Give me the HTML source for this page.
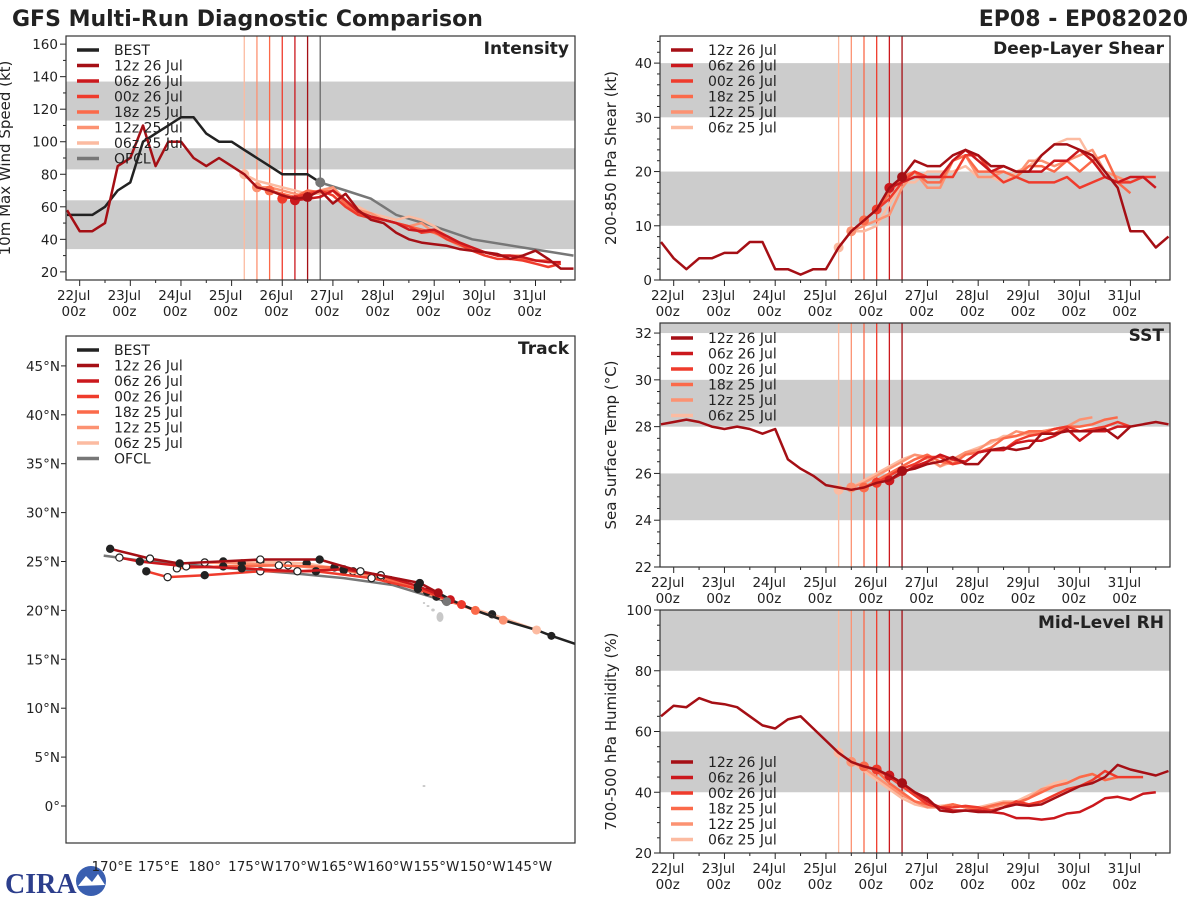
<!DOCTYPE html>
<html><head><meta charset="utf-8">
<style>
html,body{margin:0;padding:0;background:#fff;}
svg{display:block;font-family:"DejaVu Sans","Liberation Sans",sans-serif;}
</style></head>
<body>
<svg id="fig" width="1200" height="900" viewBox="0 0 1200 900" xmlns="http://www.w3.org/2000/svg">
<text x="12" y="26" font-size="22" font-weight="bold" fill="#222">GFS Multi-Run Diagnostic Comparison</text>
<text x="1188" y="26" font-size="22" font-weight="bold" fill="#222" text-anchor="end">EP08 - EP082020</text>
<g>
<text x="5" y="893" font-size="28" font-weight="bold" fill="#2c3e8c" font-family="Liberation Serif,serif">CIRA</text>
<circle cx="91" cy="881" r="15" fill="#3a5fb0"/>
<path d="M78 886 L86 876 L92 882 L98 874 L105 885 Z" fill="#fff"/>
</g>
</svg>
<script>
const NS="http://www.w3.org/2000/svg";
const svg=document.getElementById('fig');
function el(tag,attrs,parent){const e=document.createElementNS(NS,tag);for(const k in attrs)e.setAttribute(k,attrs[k]);(parent||svg).appendChild(e);return e;}

// ---------- DATA ----------
const runNames=["12z 26 Jul","06z 26 Jul","00z 26 Jul","18z 25 Jul","12z 25 Jul","06z 25 Jul"];
const runInits=[26.5,26.25,26.0,25.75,25.5,25.25];
const runColors=["#a50f15","#cb181d","#ef3b2c","#fb6a4a","#fc9272","#fcbba1"];
const histStart=21.75;
const ofclTime=26.75;

// Intensity (kt)
const bestInt=[55,55,55,60,70,75,100,105,110,115,115,105,100,100,95,90,85,80,80,80,75];
const ofclIntTimes=[26.75,27.25,27.75,28.25,29.0,29.75,30.75,31.75];
const ofclInt=[75,70,65,55,48,40,35,30];
const int12z26=[58,45,45,50,85,90,110,85,100,100,90,85,90,85,80,72,70,67,65,66,70,62,68,58,52,50,44,40,38,37,36,34,33,32,31,28,30,33,28,22,22];
const int06z26=[64,65,66,70,64,57,54,52,50,46,45,46,42,38,35,32,30,30,29,27,26,26];
const int00z26=[65,66,68,70,67,60,55,53,52,50,48,44,45,40,37,33,30,28,28,27,25,23,25];
const int18z25=[70,68,66,70,69,70,62,56,54,52,50,48,46,44,42,38,35,32,30,30,28,27,27];
const int12z25=[72,72,70,68,66,70,72,64,58,56,52,50,48,50,44,40,36,34,32,30,30,30];
const int06z25=[80,76,74,72,70,68,68,70,62,60,56,54,52,54,52,48,42,38,34,32,30,30];

// Shear (kt)
const shr12z26=[7,4,2,4,4,5,5,7,7,2,2,1,2,2,6,9,11,13,17,19,22,21,21,23,24,23,21,21,20,20,23,25,25,24,23,20,17,9,9,6,8];
const shr06z26=[17,18,19,19,19,22,24,22,20,21,20,20,20,22,22,24,22,19,18,19,19,17];
const shr00z26=[13,15,18,20,19,19,19,23,23,20,18,19,18,18,18,19,17,18,19,18,18,19,19];
const shr18z25=[11,13,16,19,20,18,18,22,23,20,20,20,19,21,21,20,22,20,22,23,18,16];
const shr12z25=[9,10,11,12,17,20,17,17,22,23,19,19,20,19,22,22,21,22,23,24,20,19,18];
const shr06z25=[6,9,9,10,14,18,18,20,20,20,21,19,19,18,20,21,23,25,26,26,22,20];

// SST (C)
const sst12z26=[28.1,28.2,28.3,28.2,28.0,27.9,28.0,27.9,27.7,27.9,26.6,26.2,25.9,25.5,25.4,25.3,25.4,25.6,25.7,26.1,26.2,26.4,26.5,26.7,26.4,26.4,27.0,27.1,27.0,27.1,27.7,27.7,27.8,27.8,27.8,27.9,27.5,28.0,28.1,28.2,28.1];
const sst06z26=[25.7,26.0,26.3,26.5,26.8,26.6,26.5,26.9,27.0,27.0,27.3,27.4,27.4,27.6,27.9,27.4,27.8,27.8,28.0,28.0];
const sst00z26=[25.6,25.9,26.2,26.4,26.7,26.7,26.4,26.5,26.9,27.0,27.0,27.4,27.6,27.7,27.9,28.0,27.8,27.9,28.0,28.2,28.0];
const sst18z25=[25.4,25.7,26.0,26.3,26.6,26.8,26.5,26.4,26.8,26.9,27.1,27.5,27.6,27.8,27.8,27.7,28.0,28.0,28.1,28.3,28.4];
const sst12z25=[25.4,25.6,25.9,26.2,26.5,26.8,26.7,26.3,26.6,26.9,27.0,27.4,27.5,27.8,27.7,27.8,27.9,28.0,28.3,28.4];
const sst06z25=[25.3,25.4,25.7,26.0,26.3,26.6,26.8,26.6,26.3,26.5,26.9,27.1,27.3,27.6,27.6,27.7,27.8,27.9,28.0];

// RH (%)
const rh12z26=[65,68.5,68,71,69.5,69,68,65,62,61,64,65,61,57,53,50,48.5,47.5,45.5,43,40,38,34,33.5,34,33.5,33.5,35,36,35.5,36,38,40,42,43,45,49,47.5,46.5,45.5,47];
const rh06z26=[45.5,43,40,37,35,34,34,34,33.5,33,31.5,31.5,31,31.5,33,33.5,35.5,38,38.5,37.5,39.5,40];
const rh00z26=[47.5,45,42,39,36,35,35,35.5,35,34,35,37,36,37,39,41,42,44,47,45,45,45];
const rh18z25=[48.5,47,43,40,37,36,35,36,35,34.5,35.5,36.5,36.5,38,40,42,43,45,46,44,45];
const rh12z25=[50,48,45,42,39,37,35,35,36,35,34.5,35,36,36,38,41,42,43,45,46];
const rh06z25=[53,50,47,44,41,38,36,35,35.5,36,35,35,36,37,37,39,41,43,44];

// Track (lon in degrees east, lat in degrees north)
const bestLon=[223,217.4,215.8,212.2,209.2,207.7,206.5,205.2];
const bestLat=[15.6,17.4,18.0,19.0,20.0,20.6,21.1,21.8];
const ofclLon=[206.1,200.3,195,189.5,184,178,173,169.1];
const ofclLat=[20.9,22.6,23.3,23.8,24.2,24.7,25.1,25.6];
const trk12z26Lon=[205.2,203.2,196.8,192.4,186,177.3,174.1,169.8];
const trk12z26Lat=[21.8,22.8,24.0,25.2,25.2,24.8,25.3,26.3];
const trk06z26Lon=[206.5,203,199,195,190,184,178,173,170.8];
const trk06z26Lat=[21.1,22.5,23.6,24.2,24.0,24.3,24.5,25.0,25.4];
const trk00z26Lon=[207.7,203,198,192,186,180,176,173.7];
const trk00z26Lat=[20.6,22.2,23.3,24.0,24.0,23.6,23.4,24.0];
const trk18z25Lon=[209.2,204,199,194,188,182,177];
const trk18z25Lat=[20.0,21.9,23.4,24.4,24.6,24.5,24.3];
const trk12z25Lon=[212.2,205,200,195,189,184,180];
const trk12z25Lat=[19.0,21.4,23.1,24.1,24.6,24.8,24.9];
const trk06z25Lon=[215.8,211,206,201,196,191,186,182];
const trk06z25Lat=[18.0,19.6,21.0,22.9,24.0,24.8,25.0,25.0];

const latTicks=[0,5,10,15,20,25,30,35,40,45];
const lonTicks=[170,175,180,185,190,195,200,205,210,215];
const lonTickLabels=["170°E","175°E","180°","175°W","170°W","165°W","160°W","155°W","150°W","145°W"];
const dayTicks=[22,23,24,25,26,27,28,29,30,31];
const dayTickLabels=["22Jul","23Jul","24Jul","25Jul","26Jul","27Jul","28Jul","29Jul","30Jul","31Jul"];

// ---------- HELPERS ----------
const XMIN=21.73, XMAX=31.78;
function makePanel(name,x0,y0,w,h,ymin,ymax,bands,yMajor,yMinor,ylabel,title,ylabOff){
  const g=el('g',{});
  
  
  const sx=t=>x0+(t-XMIN)/(XMAX-XMIN)*w;
  const sy=v=>y0+h-(v-ymin)/(ymax-ymin)*h;
  const cid='clip-'+name;
  const cp=el('clipPath',{id:cid},g);el('rect',{x:x0,y:y0,width:w,height:h},cp);
  bands.forEach(b=>{
    const r=el('rect',{x:x0,y:sy(Math.min(b[1],ymax)),width:w,height:sy(b[0])-sy(Math.min(b[1],ymax)),fill:'#cccccc'},g);
    
    
  });
  for(let v=Math.ceil(ymin/yMinor)*yMinor;v<=ymax+1e-9;v+=yMinor){
    const isMaj=Math.abs(v/yMajor-Math.round(v/yMajor))<1e-6;
    el('line',{x1:x0,x2:x0-(isMaj?6:3),y1:sy(v),y2:sy(v),stroke:'#222','stroke-width':1},g);
    if(isMaj){const t=el('text',{x:x0-8,y:sy(v)+5,'font-size':13.5,'text-anchor':'end',fill:'#222'},g);t.textContent=Math.round(v);
      
      }
  }
  dayTicks.forEach((d,i)=>{
    el('line',{x1:sx(d),x2:sx(d),y1:y0+h,y2:y0+h+6,stroke:'#222'},g);
    el('line',{x1:sx(d+0.5),x2:sx(d+0.5),y1:y0+h,y2:y0+h+3,stroke:'#222'},g);
    const t=el('text',{x:sx(d)-6,y:y0+h+20,'font-size':13.5,'text-anchor':'middle',fill:'#222'},g);t.textContent=dayTickLabels[i];
    
    
    const t2=el('text',{x:sx(d)-6,y:y0+h+36,'font-size':13.5,'text-anchor':'middle',fill:'#222'},g);t2.textContent='00z';
    
    
  });
  const yl=el('text',{x:0,y:0,'font-size':15,'text-anchor':'middle',fill:'#222',transform:`translate(${x0-ylabOff},${y0+h/2}) rotate(-90)`},g);yl.textContent=ylabel;
  
  
  const plot=el('g',{'clip-path':`url(#${cid})`},g);
  return {g,plot,sx,sy,x0,y0,w,h,title};
}
function finishPanel(p){
  const fr=el('rect',{x:p.x0,y:p.y0,width:p.w,height:p.h,fill:'none',stroke:'#333','stroke-width':1.2},p.g);
  
  
  const t=el('text',{x:p.x0+p.w-6,y:p.y0+18,'font-size':17,'font-weight':'bold','text-anchor':'end',fill:'#222'},p.g);t.textContent=p.title;
  
  
}
function vlines(p,withOfcl){
  runInits.forEach((t,i)=>{
    const l=el('line',{x1:p.sx(t),x2:p.sx(t),y1:p.y0,y2:p.y0+p.h,stroke:runColors[i],'stroke-width':1.3},p.plot);
    
    
  });
  if(withOfcl){const l=el('line',{x1:p.sx(ofclTime),x2:p.sx(ofclTime),y1:p.y0,y2:p.y0+p.h,stroke:'#777','stroke-width':1.5},p.plot);
    
    }
}
function series(p,t0,vals,color,name,dot){
  const pts=vals.map((v,i)=>p.sx(t0+i*0.25).toFixed(1)+','+p.sy(v).toFixed(1)).join(' ');
  const pl=el('polyline',{points:pts,fill:'none',stroke:color,'stroke-width':2.5,'stroke-linejoin':'round'},p.plot);
  
  
  if(dot){const c=el('circle',{cx:p.sx(dot),cy:p.sy(vals[Math.round((dot-t0)/0.25)]),r:5,fill:color},p.plot);
    
    }
}
function seriesXY(p,ts,vals,color,name){
  const pts=vals.map((v,i)=>p.sx(ts[i]).toFixed(1)+','+p.sy(v).toFixed(1)).join(' ');
  const pl=el('polyline',{points:pts,fill:'none',stroke:color,'stroke-width':2.5},p.plot);
  
  
}
function legend(p,x,y,names,colors,spacing){
  const g=el('g',{},p.g);
  
  
  names.forEach((n,i)=>{
    const yy=y+i*spacing;
    el('line',{x1:x,x2:x+22,y1:yy,y2:yy,stroke:colors[i],'stroke-width':3.5},g);
    const t=el('text',{x:x+37,y:yy+5,'font-size':14,fill:'#222'},g);t.textContent=n;
    
    
  });
}
function drawRuns(p,arrs){
  for(let i=arrs.length-1;i>=0;i--){
    const t0=i===0?histStart:runInits[i];
    series(p,t0,arrs[i],runColors[i],'series-'+runNames[i].replace(/ /g,'-').toLowerCase(),runInits[i]);
  }
}

// ---------- INTENSITY ----------
const pI=makePanel('intensity',66,36,509,244,15,165,[[34,64],[83,96],[113,137]],20,10,'10m Max Wind Speed (kt)','Intensity',56);
vlines(pI,true);
series(pI,histStart,bestInt,'#222','series-best',null);
seriesXY(pI,ofclIntTimes,ofclInt,'#777','series-ofcl');
drawRuns(pI,[int12z26,int06z26,int00z26,int18z25,int12z25,int06z25]);
{const c=el('circle',{cx:pI.sx(ofclTime),cy:pI.sy(ofclInt[0]),r:5,fill:'#777'},pI.plot);

}
legend(pI,77,50,['BEST'].concat(runNames,['OFCL']),['#222'].concat(runColors,['#777']),15.5);
finishPanel(pI);

// ---------- SHEAR ----------
const pS=makePanel('shear',660,36,510,244,0,45,[[10,20],[30,40]],10,2,'200-850 hPa Shear (kt)','Deep-Layer Shear',44);
vlines(pS,false);
drawRuns(pS,[shr12z26,shr06z26,shr00z26,shr18z25,shr12z25,shr06z25]);
legend(pS,671,50,runNames,runColors,15.5);
finishPanel(pS);

// ---------- SST ----------
const pT=makePanel('sst',660,323,510,244,22,32.43,[[24,26],[28,30],[32,33]],2,0.5,'Sea Surface Temp (°C)','SST',44);
vlines(pT,false);
drawRuns(pT,[sst12z26,sst06z26,sst00z26,sst18z25,sst12z25,sst06z25]);
legend(pT,671,338,runNames,runColors,15.5);
finishPanel(pT);

// ---------- RH ----------
const pR=makePanel('rh',660,610,510,243,20,100,[[40,60],[80,100]],20,5,'700-500 hPa Humidity (%)','Mid-Level RH',44);
vlines(pR,false);
drawRuns(pR,[rh12z26,rh06z26,rh00z26,rh18z25,rh12z25,rh06z25]);
legend(pR,671,762,runNames,runColors,15.5);
finishPanel(pR);

// ---------- TRACK ----------
(function(){
  const x0=66,y0=336,w=509,h=507;
  const g=el('g',{});
  
  
  const sx=lon=>112+(lon-170)*9.27;
  const sy=lat=>806-lat*9.78;
  const cp=el('clipPath',{id:'clip-track'},g);el('rect',{x:x0,y:y0,width:w,height:h},cp);
  const plot=el('g',{'clip-path':'url(#clip-track)'},g);
  [[440,617,3.5,5],[433,610,1.8,1.5],[428,606,1.5,1],[424,603,1.2,1],[424,786,1.5,1]].forEach(a=>{
    const e=el('ellipse',{cx:a[0],cy:a[1],rx:a[2],ry:a[3],fill:'#c8c8c8'},plot);
    
    
  });
  latTicks.forEach(l=>{
    el('line',{x1:x0,x2:x0-5,y1:sy(l),y2:sy(l),stroke:'#222'},g);
    const t=el('text',{x:x0-6,y:sy(l)+5,'font-size':13.5,'text-anchor':'end',fill:'#222'},g);
    t.textContent=l===0?'0°':l+'°N';
    
    
  });
  lonTicks.forEach((l,i)=>{
    const t=el('text',{x:sx(l),y:871,'font-size':13.5,'text-anchor':'middle',fill:'#222'},g);
    t.textContent=lonTickLabels[i];
    
    
  });
  function trk(lons,lats,color,name,markers){
    const pts=lons.map((v,i)=>sx(v).toFixed(1)+','+sy(lats[i]).toFixed(1)).join(' ');
    const pl=el('polyline',{points:pts,fill:'none',stroke:color,'stroke-width':2.5},plot);
    
    
    if(markers){lons.forEach((v,i)=>{if(i===0)return;
      const c=el('circle',{cx:sx(v),cy:sy(lats[i]),r:3.6,fill:i%2?'#222':'#fff',stroke:'#222','stroke-width':1.2},plot);
      
      });}
  }
  trk(ofclLon,ofclLat,'#777','track-ofcl',false);
  const tl=[trk12z26Lon,trk06z26Lon,trk00z26Lon,trk18z25Lon,trk12z25Lon,trk06z25Lon];
  const tt=[trk12z26Lat,trk06z26Lat,trk00z26Lat,trk18z25Lat,trk12z25Lat,trk06z25Lat];
  for(let i=5;i>=0;i--)trk(tl[i],tt[i],runColors[i],'track-'+runNames[i].replace(/ /g,'-').toLowerCase(),true);
  trk(bestLon,bestLat,'#222','track-best',false);
  [1,4].forEach(i=>{const c=el('circle',{cx:sx(bestLon[i]),cy:sy(bestLat[i]),r:4,fill:'#222'},plot);
    
    });
  for(let i=5;i>=0;i--){const c=el('circle',{cx:sx(tl[i][0]),cy:sy(tt[i][0]),r:4.5,fill:runColors[i]},plot);
    
    }
  {const c=el('circle',{cx:sx(ofclLon[0]),cy:sy(ofclLat[0]),r:4.5,fill:'#777'},plot);
    
    }
  const p={g,x0,y0,w,h,title:'Track'};
  legend(p,77,350,['BEST'].concat(runNames,['OFCL']),['#222'].concat(runColors,['#777']),15.5);
  finishPanel(p);
})();
</script>
</body></html>
